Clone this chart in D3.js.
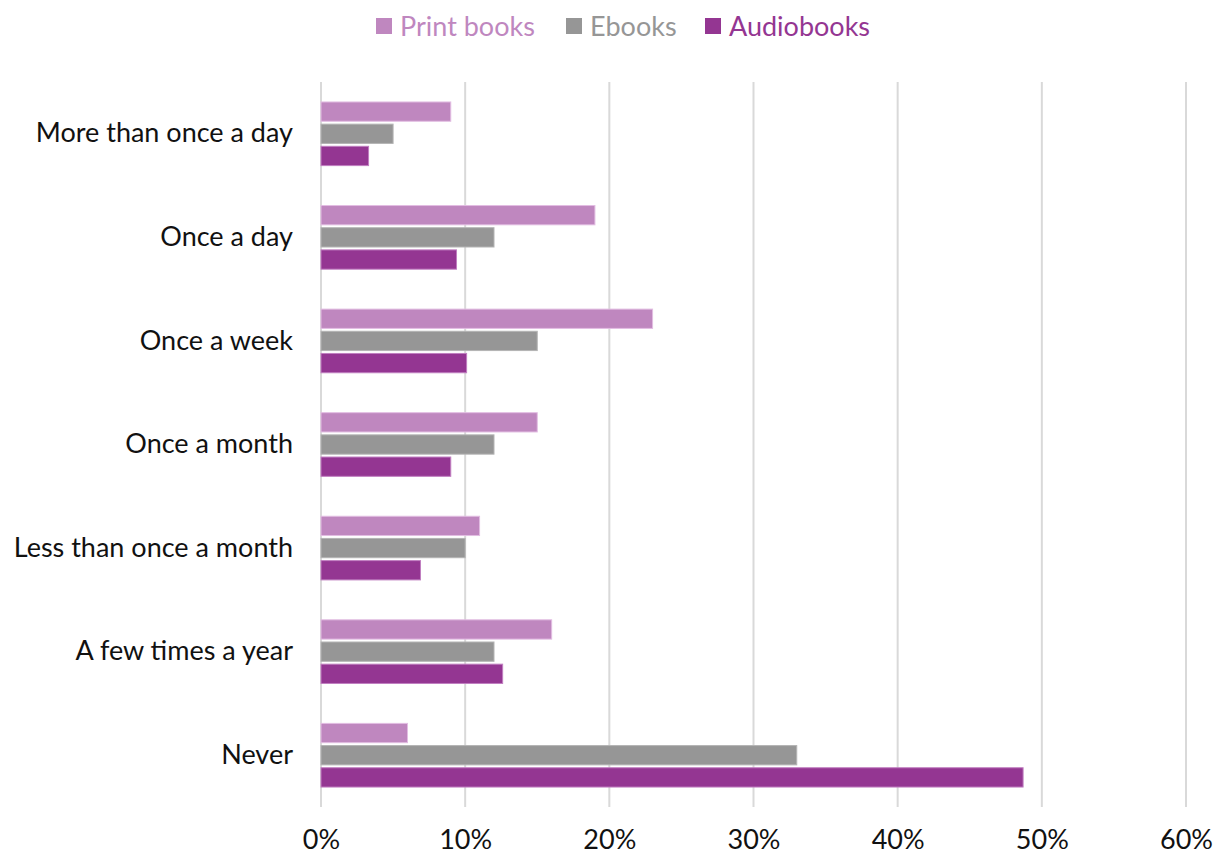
<!DOCTYPE html>
<html>
<head>
<meta charset="utf-8">
<script src="https://cdn.jsdelivr.net/npm/d3@7"></script>
<style>
  html, body { margin: 0; padding: 0; background: #fff; }
  svg { display: block; font-family: Lato, "Open Sans", sans-serif; }
</style>
</head>
<body>
<svg id="chart" width="1215" height="856"></svg>
<script>
// Reading frequency by format (share of respondents)
const categories = [
  "More than once a day",
  "Once a day",
  "Once a week",
  "Once a month",
  "Less than once a month",
  "A few times a year",
  "Never"
];
const seriesNames = ["Print books", "Ebooks", "Audiobooks"];
const printBooks = [9, 19, 23, 15, 11, 16, 6];
const ebooks     = [5, 12, 15, 12, 10, 12, 33];
const audiobooks = [3.3, 9.4, 10.1, 9, 6.9, 12.6, 48.7];
const xTicks = [0, 10, 20, 30, 40, 50, 60];

const seriesValues = [printBooks, ebooks, audiobooks];
const fills   = ["#bf87bf", "#969696", "#943692"];
const strokes = ["#e2bde2", "#b4b4b4", "#c07ec0"];

const svg = d3.select("#chart");
const margin = { top: 82, right: 29, bottom: 49, left: 321 };
const W = 1215, H = 856;
const fontSize = 27;

const x = d3.scaleLinear().domain([0, 60]).range([margin.left, W - margin.right]);
const y = d3.scaleBand().domain(categories).range([margin.top, H - margin.bottom]);
const inner = d3.scaleBand().domain(seriesNames).range([0, y.bandwidth()]).paddingInner(0.13).paddingOuter(0.9);

// vertical gridlines
svg.append("g")
  .selectAll("line")
  .data(xTicks)
  .join("line")
  .attr("x1", d => x(d)).attr("x2", d => x(d))
  .attr("y1", margin.top).attr("y2", H - margin.bottom)
  .attr("stroke", "#d9d9d9")
  .attr("stroke-width", 2);

// x axis tick labels
const xAxis = d3.axisBottom(x).tickValues(xTicks).tickFormat(d => d + "%").tickSize(0).tickPadding(0);
const gx = svg.append("g")
  .attr("transform", `translate(0,${H - 26})`)
  .call(xAxis);
gx.select(".domain").remove();
gx.selectAll("text")
  .attr("font-family", "Lato, 'Open Sans', sans-serif")
  .attr("font-size", fontSize)
  .attr("fill", "#111");

// category labels
const yAxis = d3.axisLeft(y).tickSize(0).tickPadding(28);
const gy = svg.append("g")
  .attr("transform", `translate(${margin.left},0)`)
  .call(yAxis);
gy.select(".domain").remove();
gy.selectAll("text")
  .attr("font-family", "Lato, 'Open Sans', sans-serif")
  .attr("font-size", fontSize)
  .attr("fill", "#111");

// bars
seriesNames.forEach((name, si) => {
  svg.append("g")
    .selectAll("rect")
    .data(categories.map((c, i) => ({ c, v: seriesValues[si][i] })))
    .join("rect")
    .attr("x", x(0))
    .attr("y", d => y(d.c) + inner(name))
    .attr("width", d => x(d.v) - x(0))
    .attr("height", inner.bandwidth())
    .attr("fill", fills[si])
    .attr("stroke", strokes[si])
    .attr("stroke-width", 1);
});

// legend
const legendX = [376, 566, 705];
const lg = svg.append("g");
seriesNames.forEach((name, si) => {
  const g = lg.append("g").attr("transform", `translate(${legendX[si]},0)`);
  g.append("rect")
    .attr("x", 0).attr("y", 18).attr("width", 16).attr("height", 16)
    .attr("fill", fills[si]);
  g.append("text")
    .attr("x", 24).attr("y", 36)
    .attr("font-size", fontSize)
    .attr("fill", fills[si])
    .text(name);
});
</script>
</body>
</html>
